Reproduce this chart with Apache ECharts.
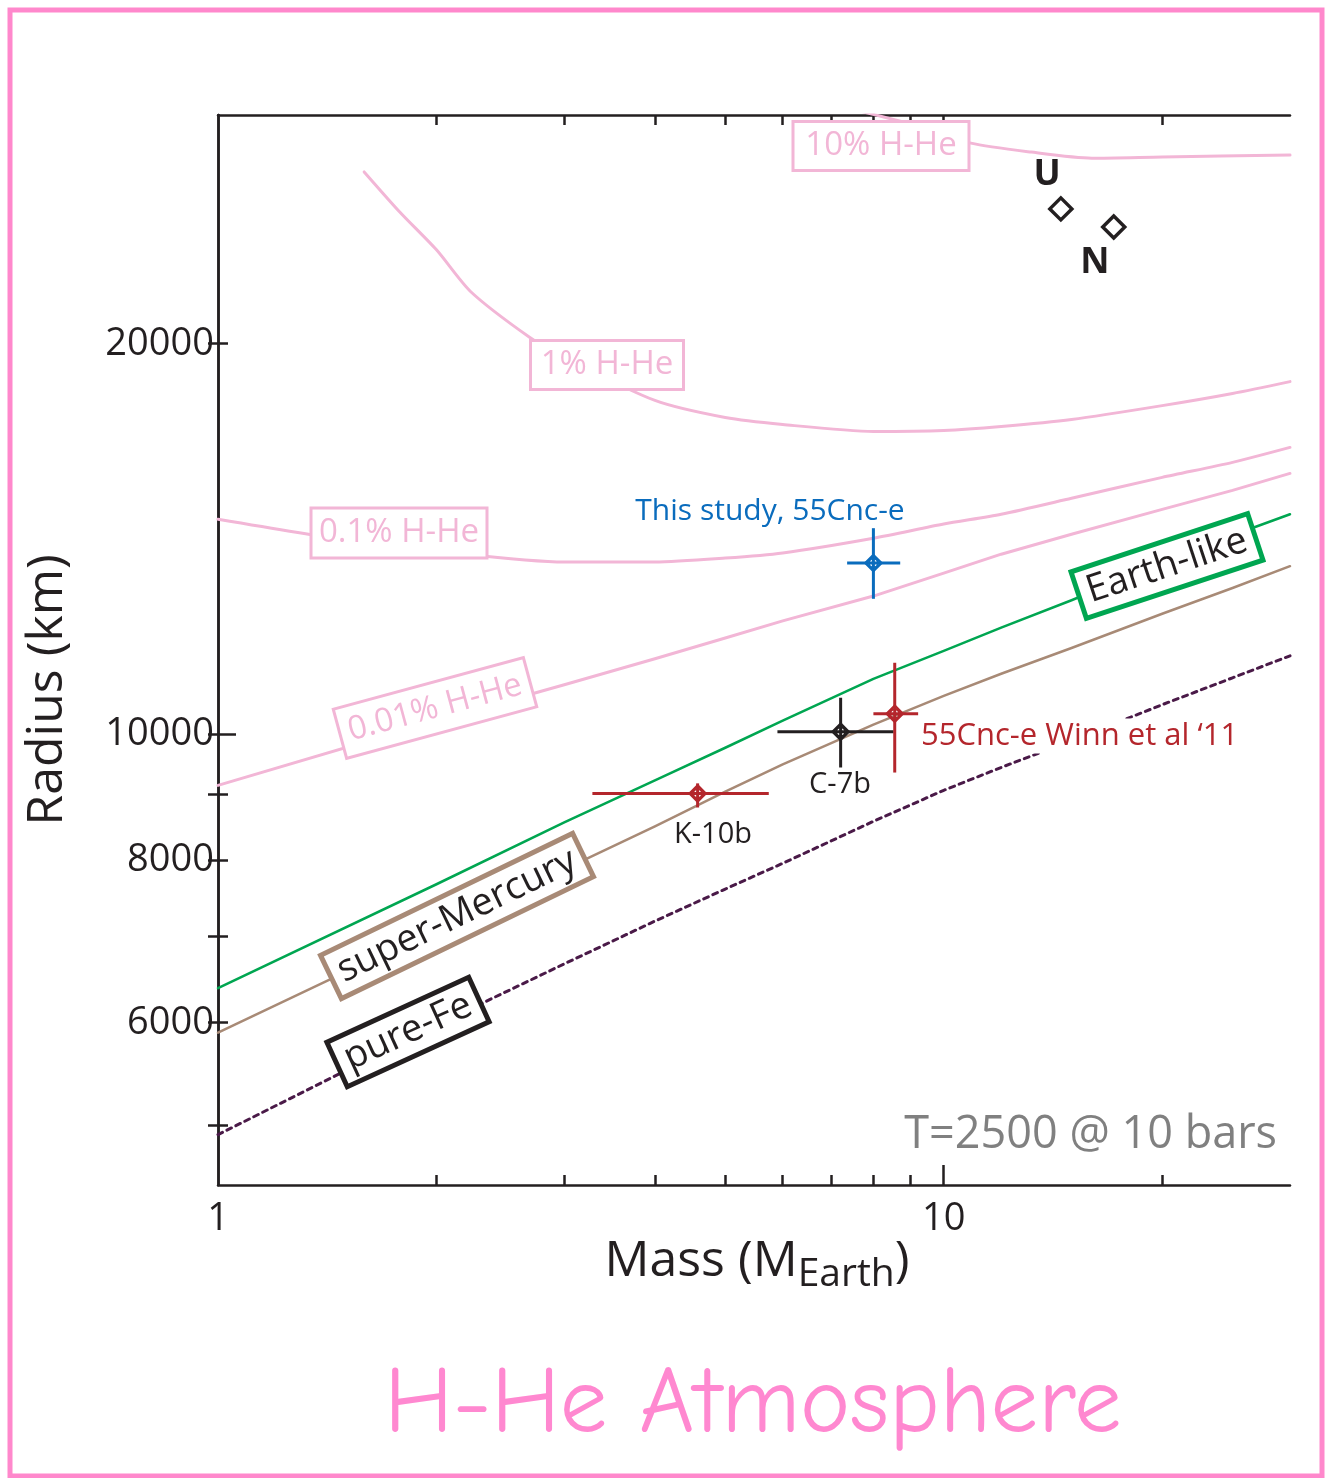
<!DOCTYPE html>
<html><head><meta charset="utf-8">
<script src="https://cdn.jsdelivr.net/npm/echarts@6/dist/echarts.min.js"></script>
<style>html,body{margin:0;padding:0;background:#fff}#c{width:1325px;height:1478px}</style>
</head><body><div id="c"></div>
<script>
// ---- data (mass in Earth masses, radius in km) ----
const massGrid = [1, 2, 3, 4, 5, 6, 8, 10, 12, 15, 20, 25, 30];
const rEarthLike = [6380, 7670, 8560, 9220, 9770, 10250, 11040, 11600, 12090, 12690, 13560, 14240, 14780];
const rSuperMercury = [5895, 7085, 7875, 8500, 9040, 9485, 10180, 10710, 11140, 11660, 12390, 12970, 13480];
const rPureFe = [4920, 5975, 6660, 7185, 7605, 7960, 8575, 9060, 9435, 9895, 10545, 11060, 11500];
const rHHe001 = [9140, 10250, 10925, 11440, 11870, 12235, 12785, 13315, 13770, 14265, 14910, 15420, 15890];
const mHHe01 = [1, 1.5, 2, 3, 4, 5, 6, 8, 10, 12, 15, 20, 25, 30];
const rHHe01 = [14650, 14120, 13845, 13580, 13580, 13675, 13800, 14165, 14525, 14780, 15205, 15780, 16205, 16640];
const mHHe1 = [1.59, 1.78, 2, 2.23, 2.69, 3, 4, 5, 6, 8, 10, 12, 15, 20, 25, 30];
const rHHe1 = [27120, 25260, 23620, 21930, 20220, 19510, 18085, 17545, 17330, 17120, 17150, 17270, 17485, 17920, 18310, 18700];
const mHHe10 = [7.5, 8.9, 10.9, 13.2, 16, 20, 30];
const rHHe10 = [30300, 29570, 28540, 28090, 27790, 27850, 27940];

const planetNames = ['U', 'N'];
const planetMass = [14.5, 17.15];
const planetRadius = [25400, 24600];

// [mass, radius, massLow, massHigh, radiusLow, radiusHigh]
const thisStudy = [8.0, 13555, 7.36, 8.71, 12723, 14420];
const winn11 = [8.56, 10378, 8.0, 9.22, 9350, 11359];
const corot7b = [7.21, 10053, 5.90, 8.53, 9434, 10676];
const kepler10b = [4.58, 9010, 3.28, 5.74, 8788, 9172];

const xLabelValues = [1, 10];
const xMinorTicks = [2, 3, 4, 5, 6, 7, 8, 9, 20];
const xTopTicks = [2, 3, 4, 5, 6, 7, 8, 9, 10, 20];
const yLabelValues = [6000, 8000, 10000, 20000];
const yMinorTicks = [5000, 6000, 7000, 8000, 9000, 20000];
const yRightTicks = [5000, 6000, 7000, 8000, 9000, 10000, 20000];

// ---- build ----
const lg = Math.log10;
const pairs = (ms, rs) => ms.map((m, i) => [lg(m), lg(rs[i])]);
const FONT = "'Open Sans', 'Noto Sans', sans-serif";
const PINK = '#f2b6d6';
const X_MIN = 0, X_MAX = lg(30), Y_MIN = lg(4500), Y_MAX = lg(30000);
const AX = '#231f20';

function xAxisDef(pos, ticks, len, showLine, showLabel) {
  return {
    type: 'value', position: pos, min: X_MIN, max: X_MAX, gridIndex: 0,
    axisLine: { show: showLine, lineStyle: { color: AX, width: 2.5 } },
    axisTick: { show: ticks.length > 0, inside: true, length: len, customValues: ticks.map(lg), lineStyle: { color: AX, width: 2.5 } },
    axisLabel: showLabel ? { show: true, customValues: xLabelValues.map(lg), formatter: v => String(Math.round(Math.pow(10, v))), color: AX, fontFamily: FONT, fontSize: 38, margin: 15 } : { show: false },
    splitLine: { show: false }
  };
}
function yAxisDef(pos, ticks, len, showLine, showLabel) {
  return {
    type: 'value', position: pos, min: Y_MIN, max: Y_MAX, gridIndex: 0,
    axisLine: { show: showLine, lineStyle: { color: AX, width: 2.5 } },
    axisTick: { show: ticks.length > 0, inside: true, length: len, customValues: ticks.map(lg), lineStyle: { color: AX, width: 2.5 } },
    axisLabel: showLabel ? { show: true, customValues: yLabelValues.map(lg), formatter: v => String(Math.round(Math.pow(10, v) / 1000) * 1000), color: AX, fontFamily: FONT, fontSize: 38, margin: 4 } : { show: false },
    splitLine: { show: false }
  };
}

function curve(name, data, color, width, type, smooth) {
  return {
    type: 'line', name, data, xAxisIndex: 0, yAxisIndex: 0, showSymbol: false, symbol: 'none',
    smooth: smooth || false, clip: true, z: 2,
    lineStyle: { color, width, type: type || 'solid', cap: 'round', join: 'round' }
  };
}

function errSeries(pt, color) {
  return {
    type: 'custom', xAxisIndex: 0, yAxisIndex: 0, z: 5,
    data: [[lg(pt[0]), lg(pt[1]), lg(pt[2]), lg(pt[3]), lg(pt[4]), lg(pt[5])]],
    renderItem: (params, api) => {
      const c = api.coord([api.value(0), api.value(1)]);
      const xl = api.coord([api.value(2), api.value(1)]);
      const xh = api.coord([api.value(3), api.value(1)]);
      const yl = api.coord([api.value(0), api.value(4)]);
      const yh = api.coord([api.value(0), api.value(5)]);
      const st = { stroke: color, lineWidth: 3, fill: null };
      const s = 8;
      return {
        type: 'group', children: [
          { type: 'line', shape: { x1: xl[0], y1: xl[1], x2: xh[0], y2: xh[1] }, style: st },
          { type: 'line', shape: { x1: yl[0], y1: yl[1], x2: yh[0], y2: yh[1] }, style: st },
          { type: 'polygon', shape: { points: [[c[0], c[1] - s], [c[0] + s, c[1]], [c[0], c[1] + s], [c[0] - s, c[1]]] }, style: { stroke: color, lineWidth: 2.5, fill: null } },
          { type: 'circle', shape: { cx: c[0], cy: c[1], r: 4.5 }, style: { stroke: color, lineWidth: 2, fill: null } }
        ]
      };
    }
  };
}

function boxLabel(cx, cy, w, h, angleDeg, text, textColor, border, bw, fontSize) {
  return {
    type: 'group', x: cx, y: cy, rotation: angleDeg * Math.PI / 180, z: 10,
    children: [
      { type: 'rect', z: 10, shape: { x: -w / 2, y: -h / 2, width: w, height: h }, style: { fill: '#fff', stroke: border, lineWidth: bw } },
      { type: 'text', z: 11, x: 0, y: 0, style: { text, fill: textColor, font: `${fontSize}px ${FONT}`, align: 'center', verticalAlign: 'middle' } }
    ]
  };
}
function txt(x, y, text, color, size, align, weight, bg) {
  return { type: 'text', x, y, z: 10, style: { text, fill: color, font: `${weight || 'normal'} ${size}px ${FONT}`, align: align || 'center', verticalAlign: 'middle', backgroundColor: bg || null, padding: bg ? [2, 4] : 0 } };
}

const option = {
  animation: false,
  backgroundColor: '#fff',
  grid: { left: 218, top: 115, width: 1072, height: 1070, containLabel: false },
  xAxis: [
    xAxisDef('bottom', xMinorTicks, 10, true, true),
    xAxisDef('top', xTopTicks, 10, true, false),
    xAxisDef('bottom', [10], 20, false, false)
  ],
  yAxis: [
    yAxisDef('left', yMinorTicks, 10, true, true),
    yAxisDef('right', yRightTicks, 10, true, false),
    yAxisDef('left', [10000], 18, false, false)
  ],
  series: [
    curve('10% H-He', pairs(mHHe10, rHHe10), PINK, 3, null, 0.25),
    curve('1% H-He', pairs(mHHe1, rHHe1), PINK, 3, null, 0.25),
    curve('0.1% H-He', pairs(mHHe01, rHHe01), PINK, 3, null, 0.25),
    curve('0.01% H-He', pairs(massGrid, rHHe001), PINK, 3),
    curve('Earth-like', pairs(massGrid, rEarthLike), '#00a651', 2.5),
    curve('super-Mercury', pairs(massGrid, rSuperMercury), '#a88a76', 2.5),
    curve('pure-Fe', pairs(massGrid, rPureFe), '#4a1a48', 3, [5, 5]),
    {
      type: 'scatter', xAxisIndex: 0, yAxisIndex: 0, z: 6,
      data: planetMass.map((m, i) => [lg(m), lg(planetRadius[i])]),
      symbol: 'diamond', symbolSize: 22,
      itemStyle: { color: '#fff', borderColor: AX, borderWidth: 3.5, opacity: 1 }
    },
    errSeries(kepler10b, '#b4262c'),
    errSeries(corot7b, AX),
    errSeries(winn11, '#b4262c'),
    errSeries(thisStudy, '#0a6cbd')
  ],
  graphic: [
    { type: 'rect', shape: { x: 10, y: 10, width: 1312, height: 1466 }, style: { fill: null, stroke: '#ff88cc', lineWidth: 5 }, z: 20 },
    boxLabel(881, 146, 176, 49, 0, '10% H-He', PINK, PINK, 3, 33),
    boxLabel(607, 365, 153, 49, 0, '1% H-He', PINK, PINK, 3, 33),
    boxLabel(399, 533, 176, 50, 0, '0.1% H-He', PINK, PINK, 3, 33),
    boxLabel(435, 708, 197, 51, 15.2, '0.01% H-He', PINK, PINK, 3, 33),
    boxLabel(1167, 566, 186, 49, 18.3, 'Earth-like', AX, '#00a651', 5, 38),
    boxLabel(457, 916, 280, 48, 25.8, 'super-Mercury', AX, '#a88a76', 5, 38),
    boxLabel(408, 1032, 156, 49, 24.6, 'pure-Fe', AX, AX, 5, 38),
    txt(770, 511, 'This study, 55Cnc-e', '#0a6cbd', 30),
    txt(917, 736, '55Cnc-e Winn et al ‘11', '#b4262c', 31, 'left', null, '#fff'),
    txt(840, 785, 'C-7b', AX, 29),
    txt(713, 835, 'K-10b', AX, 29),
    txt(1047, 175, 'U', AX, 36, 'center', 'bold'),
    txt(1095, 263, 'N', AX, 36, 'center', 'bold'),
    txt(1277, 1135, 'T=2500 @ 10 bars', '#808080', 45, 'right'),
    { type: 'text', x: 48, y: 690, rotation: Math.PI / 2, z: 10, style: { text: 'Radius (km)', fill: AX, font: `50px ${FONT}`, align: 'center', verticalAlign: 'middle' } },
    { type: 'text', x: 757, y: 1262, z: 10, style: { text: '{a|Mass (M}{b|Earth}{a|)}', align: 'center', verticalAlign: 'middle', fill: AX, rich: { a: { fontFamily: FONT, fontSize: 50, fill: AX }, b: { fontFamily: FONT, fontSize: 39, fill: AX, padding: [26, 0, 0, 0] } } } },
    { type: 'text', x: 753, y: 1405, z: 10, style: { text: 'H-He Atmosphere', fill: '#ff88d0', font: `95px 'Comic Sans MS', 'Comic Neue', 'DejaVu Sans', sans-serif`, align: 'center', verticalAlign: 'middle' } }
  ]
};
const chart = echarts.init(document.getElementById('c'), null, { renderer: 'canvas' });
chart.setOption(option);
</script>
</body></html>
